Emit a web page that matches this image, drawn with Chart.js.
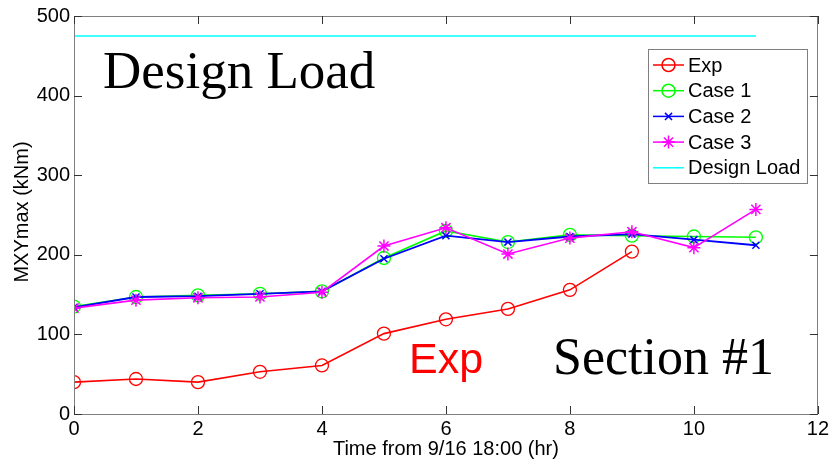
<!DOCTYPE html>
<html>
<head>
<meta charset="utf-8">
<script src="https://cdn.jsdelivr.net/npm/chart.js@4/dist/chart.umd.min.js"></script>
<style>
  html, body { margin: 0; padding: 0; background: #fff; }
  #wrap { width: 832px; height: 465px; }
</style>
</head>
<body>
<div id="wrap"><canvas id="chart" width="832" height="465"></canvas></div>
<script>
// -------- DATA --------
const hours = [0, 1, 2, 3, 4, 5, 6, 7, 8, 9, 10, 11];
const expValues = [40, 44, 40, 53, 61, 101, 119, 132, 156, 204];
const case1Values = [135, 147, 149, 151, 154, 196, 230, 216, 225, 224, 223, 222];
const case2Values = [134, 147, 148, 151, 154, 195, 224, 216, 223, 226, 219, 212];
const case3Values = [133, 143, 146, 147, 153, 211, 234, 201, 221, 229, 209, 257];
const designLoad = 475;
const designHours = [0, 11];
const xTicks = [0, 2, 4, 6, 8, 10, 12];
const yTicks = [0, 100, 200, 300, 400, 500];

const AXIS_FONT = '20px "Liberation Sans", Arial, sans-serif';

function toPoints(values) {
    return values.map((v, i) => ({ x: hours[i], y: v }));
}

// -------- MATLAB STYLE DECORATIONS --------
const matlabBox = {
    id: 'matlabBox',
    afterDatasetsDraw(chart) {
        const { ctx, chartArea: a, scales } = chart;
        ctx.save();
        ctx.strokeStyle = '#7f7f7f';
        ctx.lineWidth = 1;
        ctx.strokeRect(Math.round(a.left) + 0.5, Math.round(a.top) + 0.5,
            Math.round(a.right - a.left) - 1, Math.round(a.bottom - a.top));
        ctx.strokeStyle = '#333';
        ctx.beginPath();
        xTicks.forEach(t => {
            const px = Math.round(scales.x.getPixelForValue(t)) + 0.5;
            ctx.moveTo(px, a.bottom); ctx.lineTo(px, a.bottom - 8);
            ctx.moveTo(px, a.top); ctx.lineTo(px, a.top + 8);
        });
        yTicks.forEach(t => {
            const py = Math.round(scales.y.getPixelForValue(t)) + 0.5;
            ctx.moveTo(a.left, py); ctx.lineTo(a.left + 8, py);
            ctx.moveTo(a.right, py); ctx.lineTo(a.right - 8, py);
        });
        ctx.stroke();

        // axis titles
        ctx.fillStyle = '#000';
        ctx.font = AXIS_FONT;
        ctx.textAlign = 'center';
        ctx.textBaseline = 'middle';
        ctx.fillText('Time from 9/16 18:00 (hr)', (a.left + a.right) / 2, 449);
        ctx.save();
        ctx.translate(22, 212);
        ctx.rotate(-Math.PI / 2);
        ctx.fillText('MXYmax (kNm)', 0, 0);
        ctx.restore();

        // text annotations
        ctx.textAlign = 'left';
        ctx.textBaseline = 'alphabetic';
        ctx.font = '53px "Liberation Serif", "Times New Roman", serif';
        ctx.fillText('Design Load', 103, 88);
        ctx.font = '52px "Liberation Serif", "Times New Roman", serif';
        ctx.fillText('Section #1', 553, 374);
        ctx.fillStyle = '#ff0000';
        ctx.font = '43px "Liberation Sans", Arial, sans-serif';
        ctx.fillText('Exp', 409, 373);

        // legend
        const box = { left: 648, top: 49, right: 807, bottom: 183 };
        ctx.fillStyle = '#fff';
        ctx.fillRect(box.left, box.top, box.right - box.left, box.bottom - box.top);
        ctx.strokeStyle = '#7f7f7f';
        ctx.strokeRect(box.left + 0.5, box.top + 0.5, box.right - box.left, box.bottom - box.top);
        ctx.font = AXIS_FONT;
        ctx.textBaseline = 'middle';
        chart.data.datasets.forEach((ds, row) => {
            const y = 65 + row * 25.7;
            ctx.strokeStyle = ds.borderColor;
            ctx.lineWidth = 1.5;
            ctx.beginPath();
            ctx.moveTo(653, y); ctx.lineTo(684, y);
            ctx.stroke();
            if (ds.pointRadius > 0) {
                ctx.fillStyle = 'rgba(0,0,0,0)';
                Chart.helpers.drawPoint(ctx, {
                    pointStyle: ds.pointStyle,
                    radius: ds.pointRadius,
                    borderWidth: 1.4,
                    rotation: 0
                }, 668.5, y);
            }
            ctx.fillStyle = '#000';
            ctx.fillText(ds.label, 688, y + 1);
        });
        ctx.restore();
    }
};

// -------- CHART --------
const ctx = document.getElementById('chart').getContext('2d');
new Chart(ctx, {
    type: 'line',
    data: {
        datasets: [
            {
                label: 'Exp',
                data: toPoints(expValues),
                borderColor: '#ff0000',
                backgroundColor: 'transparent',
                pointStyle: 'circle',
                pointRadius: 6.5,
                pointBorderWidth: 1.3,
                borderWidth: 1.6,
                order: 3
            },
            {
                label: 'Case 1',
                data: toPoints(case1Values),
                borderColor: '#00ff00',
                backgroundColor: 'transparent',
                pointStyle: 'circle',
                pointRadius: 6.5,
                pointBorderWidth: 1.3,
                borderWidth: 1.6,
                order: 2
            },
            {
                label: 'Case 2',
                data: toPoints(case2Values),
                borderColor: '#0000ff',
                backgroundColor: 'transparent',
                pointStyle: 'crossRot',
                pointRadius: 5,
                pointBorderWidth: 1.5,
                borderWidth: 1.8,
                order: 1
            },
            {
                label: 'Case 3',
                data: toPoints(case3Values),
                borderColor: '#ff00ff',
                backgroundColor: 'transparent',
                pointStyle: 'star',
                pointRadius: 6.5,
                pointBorderWidth: 1.5,
                borderWidth: 1.6,
                order: 0
            },
            {
                label: 'Design Load',
                data: designHours.map(h => ({ x: h, y: designLoad })),
                borderColor: '#00ffff',
                backgroundColor: 'transparent',
                pointRadius: 0,
                borderWidth: 1.5,
                order: 4
            }
        ]
    },
    options: {
        responsive: false,
        animation: false,
        layout: { padding: { top: 16, right: 12, left: 0, bottom: 0 } },
        plugins: {
            legend: { display: false },
            tooltip: { enabled: false }
        },
        elements: { line: { tension: 0 } },
        scales: {
            x: {
                type: 'linear',
                min: 0,
                max: 12,
                afterBuildTicks: scale => { scale.ticks = xTicks.map(v => ({ value: v })); },
                afterFit: scale => { scale.height = 51; },
                grid: { display: false, drawTicks: false },
                border: { display: false },
                ticks: {
                    color: '#000',
                    font: { family: '"Liberation Sans", Arial, sans-serif', size: 20 },
                    padding: 3,
                    maxRotation: 0
                }
            },
            y: {
                min: 0,
                max: 500,
                afterBuildTicks: scale => { scale.ticks = yTicks.map(v => ({ value: v })); },
                afterFit: scale => { scale.width = 74; },
                grid: { display: false, drawTicks: false },
                border: { display: false },
                ticks: {
                    color: '#000',
                    font: { family: '"Liberation Sans", Arial, sans-serif', size: 20 },
                    padding: 4
                }
            }
        }
    },
    plugins: [matlabBox]
});
</script>
</body>
</html>
